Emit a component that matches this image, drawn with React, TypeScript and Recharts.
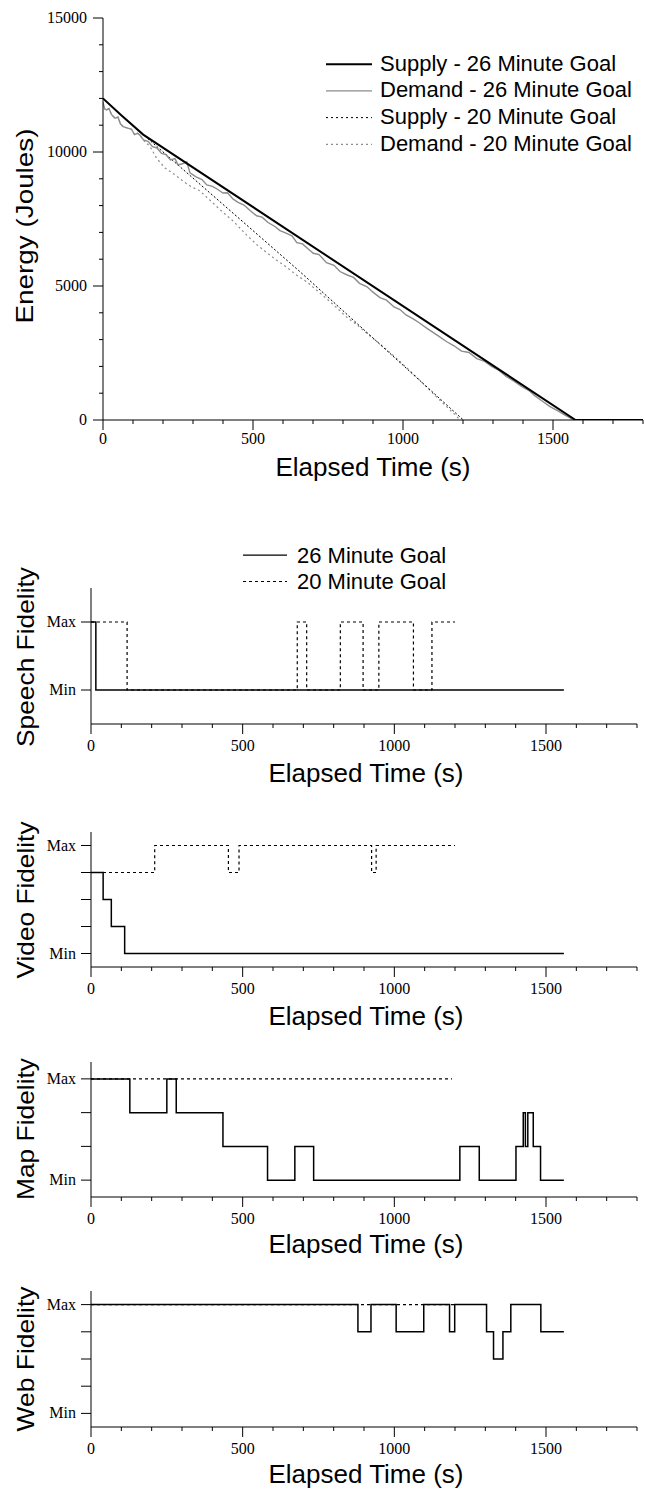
import React from "react";
import { Line, LineChart, XAxis, YAxis } from "recharts";

type Pt = [number, number];

// energy traces: [elapsed seconds, joules]
const supply26: Pt[] = [[0, 12000], [60, 11380], [134, 10650], [1575, 0], [1800, 0]];
const demand26: Pt[] = [
  [0, 11850], [6, 11600], [12, 11570], [20, 11620], [28, 11400], [40, 11260], [50, 11300],
  [58, 11050], [67, 10950], [80, 10900], [95, 10850], [105, 10650], [115, 10700], [123, 10630],
  [135, 10450], [150, 10400], [165, 10200], [180, 10150], [195, 9950], [210, 9900], [225, 9700],
  [240, 9750], [250, 9520], [265, 9560], [279, 9640], [290, 9220], [310, 9070], [330, 8970],
  [346, 8770], [365, 8720], [380, 8620], [400, 8470], [415, 8480], [433, 8250], [450, 8120],
  [470, 8020], [490, 7820], [512, 7620], [530, 7570], [550, 7370], [573, 7220], [590, 7070],
  [610, 6970], [630, 6870], [646, 6620], [665, 6570], [685, 6370], [701, 6220], [720, 6170],
  [745, 5870], [770, 5770], [790, 5540], [812, 5420], [835, 5320], [855, 5100], [880, 4970],
  [900, 4770], [923, 4570], [945, 4470], [970, 4220], [990, 4120], [1010, 3920], [1034, 3770],
  [1055, 3620], [1080, 3420], [1100, 3270], [1120, 3120], [1146, 2920], [1170, 2770],
  [1195, 2570], [1220, 2520], [1246, 2290], [1270, 2200], [1295, 2000], [1320, 1850],
  [1345, 1620], [1370, 1450], [1395, 1250], [1420, 1100], [1440, 900], [1465, 700], [1490, 500],
  [1515, 350], [1540, 180], [1560, 60], [1575, 0], [1800, 0],
];
const supply20: Pt[] = [[0, 12000], [60, 11380], [134, 10650], [657, 5530], [1201, 0]];
const demand20: Pt[] = [
  [0, 11850], [6, 11600], [12, 11570], [20, 11620], [28, 11400], [40, 11260], [50, 11300],
  [58, 11050], [67, 10950], [80, 10900], [95, 10850], [105, 10650], [115, 10700], [123, 10630],
  [134, 10450], [157, 10200], [179, 9760], [207, 9400], [240, 9150], [268, 8900], [295, 8700],
  [323, 8550], [368, 8080], [400, 7750], [434, 7420], [479, 6900], [512, 6550], [540, 6300],
  [568, 6050], [612, 5700], [646, 5400], [680, 5150], [701, 4950], [740, 4580], [775, 4230],
  [812, 3840], [850, 3520], [885, 3180], [923, 2840], [960, 2480], [1000, 2080], [1034, 1720],
  [1070, 1330], [1110, 880], [1146, 490], [1170, 240], [1190, 0],
];

// fidelity levels (0 = Min), step changes: [elapsed seconds, level]
const speech26: Pt[] = [[0, 1], [16, 0], [1559, 0]];
const speech20: Pt[] = [[0, 1], [119, 0], [680, 1], [711, 0], [822, 1], [897, 0], [949, 1], [1063, 0], [1124, 1], [1200, 1]];
const video26: Pt[] = [[0, 3], [40, 2], [67, 1], [111, 0], [1559, 0]];
const video20: Pt[] = [[0, 3], [210, 4], [453, 3], [488, 4], [925, 3], [940, 4], [1200, 4]];
const map26: Pt[] = [
  [0, 3], [128, 2], [250, 3], [281, 2], [435, 1], [582, 0], [672, 1], [734, 0], [1216, 1],
  [1280, 0], [1401, 1], [1425, 2], [1432, 1], [1440, 2], [1458, 1], [1482, 0], [1559, 0],
];
const map20: Pt[] = [[0, 3], [1190, 3]];
const web26: Pt[] = [
  [0, 4], [880, 3], [923, 4], [1006, 3], [1097, 4], [1182, 3], [1199, 4], [1304, 3],
  [1327, 2], [1358, 3], [1384, 4], [1483, 3], [1559, 3],
];
const web20: Pt[] = [[0, 4], [1200, 4]];

const timeTicks = [0, 100, 200, 300, 400, 500, 600, 700, 800, 900, 1000, 1100, 1200, 1300, 1400, 1500, 1600, 1700, 1800];
const energyTicks = [0, 1000, 2000, 3000, 4000, 5000, 6000, 7000, 8000, 9000, 10000, 11000, 12000, 13000, 14000, 15000];

const SANS = "'Liberation Sans', Arial, Helvetica, sans-serif";
const SERIF = "'Liberation Serif', 'Times New Roman', serif";
const GRAY = "#8c8c8c";

const rows = (pts: Pt[]) => pts.map(([t, v]) => ({ t, v }));

function XTick(props: any) {
  const { x, payload, axisY, labelDy } = props;
  const v = payload.value;
  const major = v % 500 === 0 && v < 1800;
  return (
    <g>
      <line x1={x} x2={x} y1={axisY} y2={axisY + (major ? 10 : 4)} stroke="#000" strokeWidth={1} />
      {major && (
        <text x={x} y={axisY + labelDy} textAnchor="middle" fontFamily={SERIF} fontSize={16} fill="#000">
          {v}
        </text>
      )}
    </g>
  );
}

function YTick(props: any) {
  const { y, payload, axisX, labels, majorLen, minorLen, gap } = props;
  const label = labels[payload.value];
  return (
    <g>
      <line x1={axisX - (label !== undefined ? majorLen : minorLen)} x2={axisX} y1={y} y2={y} stroke="#000" strokeWidth={1} />
      {label !== undefined && (
        <text x={axisX - gap} y={y + 5} textAnchor="end" fontFamily={SERIF} fontSize={16} fill="#000">
          {label}
        </text>
      )}
    </g>
  );
}

function EnergyChart() {
  const left = 103, top = 18, bottom = 420, right = 643, H = 490;
  return (
    <div style={{ position: "absolute", left: 0, top: 0 }}>
      <LineChart width={645} height={H} margin={{ top, left: left - 40, right: 645 - right, bottom: H - bottom - 30 }}>
        <XAxis
          dataKey="t" type="number" domain={[0, 1800]} ticks={timeTicks} interval={0} allowDataOverflow
          height={30} tickLine={false} tickSize={0} tickMargin={0} axisLine={{ stroke: "#000" }}
          tick={(p: any) => <XTick {...p} axisY={bottom} labelDy={24} />}
        />
        <YAxis
          type="number" domain={[0, 15000]} ticks={energyTicks} interval={0} allowDataOverflow
          width={40} tickLine={false} tickSize={0} tickMargin={0} axisLine={{ stroke: "#000" }}
          tick={(p: any) => (
            <YTick {...p} axisX={left} labels={{ 0: "0", 5000: "5000", 10000: "10000", 15000: "15000" }} majorLen={10} minorLen={4} gap={16} />
          )}
        />
        <Line data={rows(demand20)} dataKey="v" type="linear" stroke={GRAY} strokeWidth={1.2} strokeDasharray="2 3" dot={false} isAnimationActive={false} />
        <Line data={rows(supply20)} dataKey="v" type="linear" stroke="#000" strokeWidth={1} strokeDasharray="2 2" dot={false} isAnimationActive={false} />
        <Line data={rows(demand26)} dataKey="v" type="linear" stroke={GRAY} strokeWidth={1.4} dot={false} isAnimationActive={false} />
        <Line data={rows(supply26)} dataKey="v" type="linear" stroke="#000" strokeWidth={2} dot={false} isAnimationActive={false} />
      </LineChart>
    </div>
  );
}

type FidelityProps = {
  top: number;
  height: number;
  plotTop: number;
  plotBottom: number;
  levels: number;
  solid: Pt[];
  dotted: Pt[];
};

function FidelityChart({ top, height, plotTop, plotBottom, levels, solid, dotted }: FidelityProps) {
  const left = 91, right = 637;
  const levelTicks = Array.from({ length: levels + 1 }, (_, i) => i);
  const labels: Record<number, string> = {};
  levelTicks.forEach((l) => (labels[l] = ""));
  labels[0] = "Min";
  labels[levels] = "Max";
  return (
    <div style={{ position: "absolute", left: 0, top }}>
      <LineChart
        width={645}
        height={height}
        margin={{ top: plotTop - top, left: left - 40, right: 645 - right, bottom: top + height - plotBottom - 30 }}
      >
        <XAxis
          dataKey="t" type="number" domain={[0, 1800]} ticks={timeTicks} interval={0} allowDataOverflow
          height={30} tickLine={false} tickSize={0} tickMargin={0} axisLine={{ stroke: "#000" }}
          tick={(p: any) => <XTick {...p} axisY={plotBottom - top} labelDy={27} />}
        />
        <YAxis
          type="number" domain={[-0.5, levels + 0.5]} ticks={levelTicks} interval={0} allowDataOverflow
          width={40} tickLine={false} tickSize={0} tickMargin={0} axisLine={{ stroke: "#000" }}
          tick={(p: any) => <YTick {...p} axisX={left} labels={labels} majorLen={10} minorLen={10} gap={15} />}
        />
        <Line data={rows(dotted)} dataKey="v" type="stepAfter" stroke="#000" strokeWidth={1.2} strokeDasharray="3 3" dot={false} isAnimationActive={false} />
        <Line data={rows(solid)} dataKey="v" type="stepAfter" stroke="#000" strokeWidth={1.5} dot={false} isAnimationActive={false} />
      </LineChart>
    </div>
  );
}

function VLabel({ x, y, text, length }: { x: number; y: number; text: string; length: number }) {
  return (
    <text
      transform={`translate(${x},${y}) rotate(-90)`}
      textAnchor="middle"
      fontFamily={SANS}
      fontSize={24}
      textLength={length}
      lengthAdjust="spacingAndGlyphs"
      fill="#000"
    >
      {text}
    </text>
  );
}

function XLabel({ x, y }: { x: number; y: number }) {
  return (
    <text x={x} y={y} textAnchor="middle" fontFamily={SANS} fontSize={26} fill="#000">
      Elapsed Time (s)
    </text>
  );
}

const energyLegend = [
  { label: "Supply - 26 Minute Goal", color: "#000", width: 2, dash: undefined },
  { label: "Demand - 26 Minute Goal", color: GRAY, width: 1.4, dash: undefined },
  { label: "Supply - 20 Minute Goal", color: "#000", width: 1, dash: "2 3" },
  { label: "Demand - 20 Minute Goal", color: GRAY, width: 1.2, dash: "2 3" },
];

const fidelityLegend = [
  { label: "26 Minute Goal", dash: undefined },
  { label: "20 Minute Goal", dash: "3 3" },
];

function Overlay() {
  return (
    <svg width={645} height={1490} style={{ position: "absolute", left: 0, top: 0, pointerEvents: "none" }}>
      <VLabel x={33} y={226} text="Energy (Joules)" length={195} />
      <XLabel x={373} y={476} />
      {energyLegend.map((item, i) => {
        const base = 70.7 + i * 26.7;
        return (
          <g key={item.label}>
            <line x1={326} x2={372} y1={base - 6.5} y2={base - 6.5} stroke={item.color} strokeWidth={item.width} strokeDasharray={item.dash} />
            <text x={380} y={base} fontFamily={SANS} fontSize={22} fill="#000">
              {item.label}
            </text>
          </g>
        );
      })}

      {fidelityLegend.map((item, i) => {
        const base = 562.7 + i * 26.3;
        return (
          <g key={item.label}>
            <line x1={243} x2={287} y1={base - 7.5} y2={base - 7.5} stroke="#000" strokeWidth={1.2} strokeDasharray={item.dash} />
            <text x={297} y={base} fontFamily={SANS} fontSize={22} fill="#000">
              {item.label}
            </text>
          </g>
        );
      })}
      <VLabel x={34} y={657} text="Speech Fidelity" length={180} />
      <XLabel x={366} y={782} />
      <VLabel x={34} y={900} text="Video Fidelity" length={157} />
      <XLabel x={366} y={1025} />
      <VLabel x={34} y={1129} text="Map Fidelity" length={142} />
      <XLabel x={366} y={1253} />
      <VLabel x={34} y={1359} text="Web Fidelity" length={145} />
      <XLabel x={366} y={1483} />
    </svg>
  );
}

export default function App() {
  return (
    <div style={{ position: "absolute", left: 0, top: 0, width: 645, height: 1490, background: "#fff" }}>
      <EnergyChart />
      <FidelityChart top={530} height={260} plotTop={588} plotBottom={724} levels={1} solid={speech26} dotted={speech20} />
      <FidelityChart top={800} height={230} plotTop={832} plotBottom={967} levels={4} solid={video26} dotted={video20} />
      <FidelityChart top={1030} height={230} plotTop={1062} plotBottom={1197} levels={3} solid={map26} dotted={map20} />
      <FidelityChart top={1260} height={230} plotTop={1291} plotBottom={1427} levels={4} solid={web26} dotted={web20} />
      <Overlay />
    </div>
  );
}
